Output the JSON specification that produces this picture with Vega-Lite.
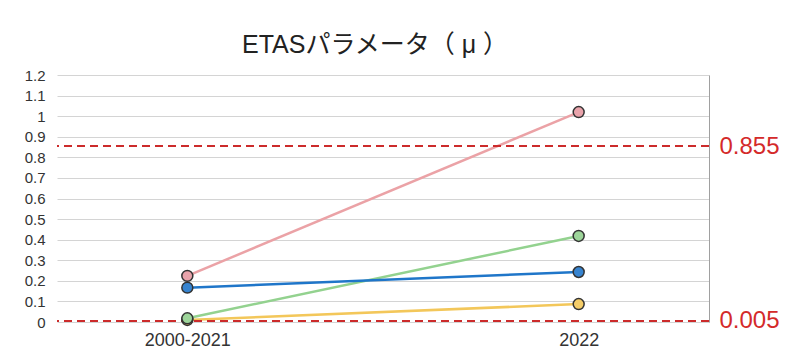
{
  "$schema": "https://vega.github.io/schema/vega-lite/v6.json",
  "width": 652,
  "height": 247,
  "autosize": "none",
  "padding": {"left": 57, "top": 75, "right": 81, "bottom": 37},
  "background": "white",
  "config": {"view": {"stroke": null}, "font": "Liberation Sans"},
  "title": {
    "text": "ETASパラメータ（ μ ）",
    "font": "Liberation Sans, Noto Sans CJK JP",
    "fontSize": 25,
    "fontWeight": "normal",
    "color": "#222222",
    "dx": -8,
    "offset": 10
  },
  "datasets": {
    "series": [
      {"series": "系列1", "period": "2000-2021", "value": 0.224},
      {"series": "系列1", "period": "2022", "value": 1.02},
      {"series": "系列2", "period": "2000-2021", "value": 0.01},
      {"series": "系列2", "period": "2022", "value": 0.087},
      {"series": "系列3", "period": "2000-2021", "value": 0.018},
      {"series": "系列3", "period": "2022", "value": 0.418},
      {"series": "系列4", "period": "2000-2021", "value": 0.167},
      {"series": "系列4", "period": "2022", "value": 0.243}
    ],
    "thresholds": [{"value": 0.855}, {"value": 0.005}]
  },
  "layer": [
    {
      "data": {"name": "series"},
      "mark": {"type": "line"},
      "encoding": {
        "x": {
          "field": "period",
          "type": "ordinal",
          "scale": {"type": "point", "padding": 0.333},
          "axis": {"title": null, "labelAngle": 0, "labelFontSize": 18, "labelColor": "#333333", "ticks": false, "domain": false, "labelPadding": 9}
        },
        "y": {
          "field": "value",
          "type": "quantitative",
          "scale": {"domain": [0, 1.2], "nice": false},
          "axis": {
            "orient": "left",
            "title": null,
            "values": [0, 0.1, 0.2, 0.3, 0.4, 0.5, 0.6, 0.7, 0.8, 0.9, 1, 1.1, 1.2],
            "format": "~g",
            "labelFontSize": 15,
            "labelColor": "#333333",
            "ticks": false,
            "domain": false,
            "labelPadding": 12,
            "gridColor": "#D4D4D4",
            "gridWidth": 1
          }
        },
        "color": {
          "field": "series",
          "type": "nominal",
          "scale": {"domain": ["系列1", "系列2", "系列3", "系列4"], "range": ["#EBA2A6", "#F3C75A", "#93D28F", "#1F76C9"]},
          "legend": null
        },
        "strokeWidth": {
          "field": "series",
          "type": "nominal",
          "scale": {"domain": ["系列1", "系列2", "系列3", "系列4"], "range": [2.5, 2.5, 2.5, 3.5]},
          "legend": null
        }
      }
    },
    {
      "data": {"name": "thresholds"},
      "mark": {"type": "rule", "color": "#CC2B2B", "strokeDash": [8, 5], "strokeWidth": 2},
      "encoding": {
        "y": {
          "field": "value",
          "type": "quantitative",
          "axis": {
            "orient": "right",
            "title": null,
            "values": [0.005, 0.855],
            "format": ".3f",
            "labelColor": "#D42A2A",
            "labelFontSize": 24,
            "ticks": false,
            "grid": false,
            "domain": true,
            "domainColor": "#A0A0A0",
            "domainWidth": 1,
            "labelPadding": 10
          }
        }
      }
    },
    {
      "data": {"name": "series"},
      "mark": {"type": "point", "filled": true, "size": 120, "stroke": "#333333", "strokeWidth": 1.5, "opacity": 1},
      "encoding": {
        "x": {"field": "period", "type": "ordinal"},
        "y": {"field": "value", "type": "quantitative", "axis": null},
        "fill": {
          "field": "series",
          "type": "nominal",
          "scale": {"domain": ["系列1", "系列2", "系列3", "系列4"], "range": ["#E9A3AB", "#F5CD68", "#9DD59A", "#3784D0"]},
          "legend": null
        }
      }
    }
  ],
  "resolve": {"scale": {"y": "shared"}, "axis": {"y": "independent"}}
}
